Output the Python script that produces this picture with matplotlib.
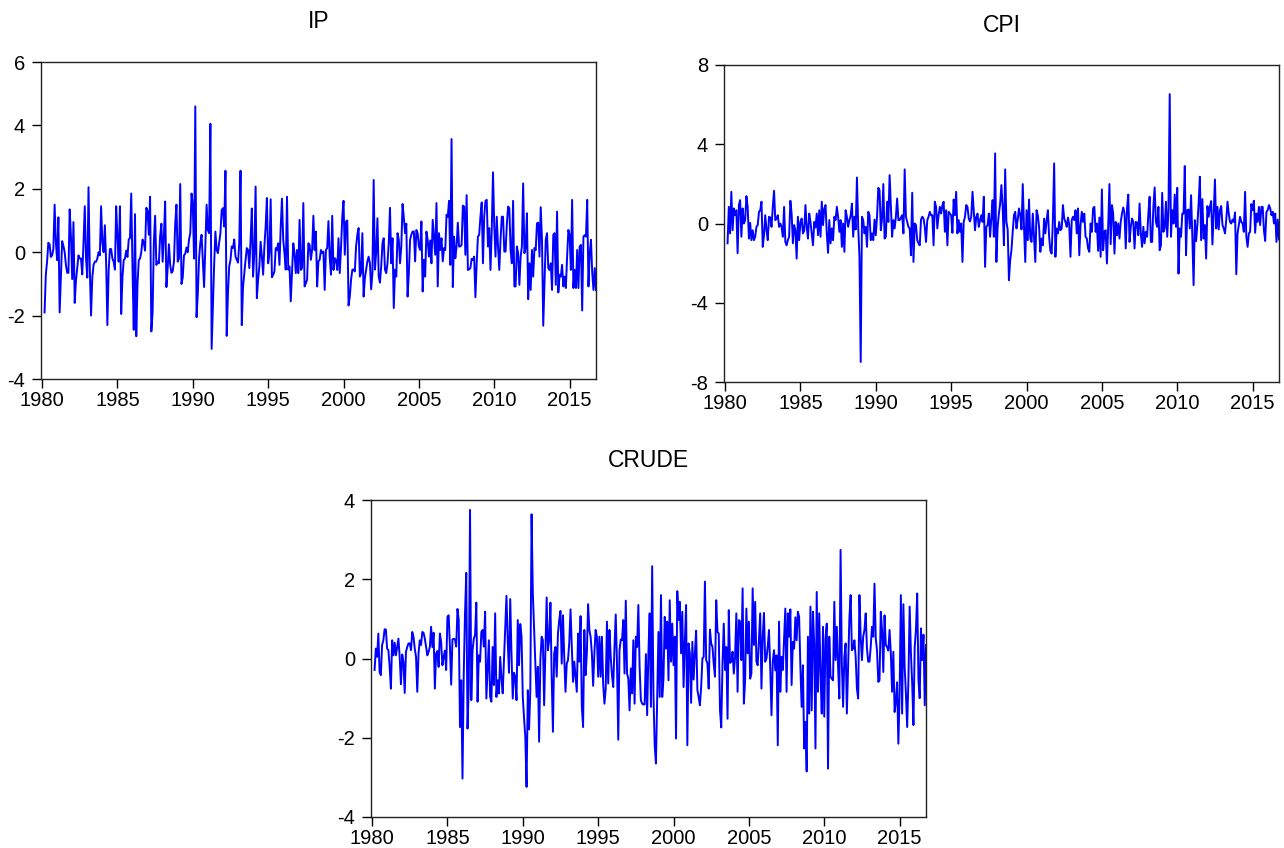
import numpy as np
import matplotlib
matplotlib.use("Agg")
import matplotlib.pyplot as plt

plt.rcParams['font.family'] = ['Liberation Sans', 'DejaVu Sans']
plt.rcParams['axes.unicode_minus'] = False

# monthly data, 1980M03 - 2016M10
ip = [
    -1.9, -0.7, -0.3, 0.3, 0.25, -0.15, -0.1, 0.1, 1.5, 0.3,
    -0.25, 1.1, -1.9, -0.8, 0.35, 0.2, 0.0, -0.4, -0.65, -0.65, 1.35, 0.5,
    -0.85, 0.95, -1.6, -0.9, -0.5, -0.1, -0.2, -0.2, -0.7, 0.3, 1.45, -0.2,
    -0.8, 2.05, -0.5, -2.0, -0.8, -0.4, -0.3, -0.3, -0.2, 0.0, -0.1, 1.45,
    0.3, 0.0, 0.85, -0.3, -2.3, -0.6, 0.1, 0.1, -0.2, -0.3, -0.55, 1.45,
    0.5, -0.3, 1.45, -1.95, -0.8, -0.25, -0.2, 0.05, -0.15, 0.4, 0.45, 1.85,
    -0.5, -2.45, 1.2, -2.65, -1.0, -0.25, -0.2, 0.0, 0.4, 0.3, 0.05, 1.4,
    1.3, 0.55, 1.75, -2.5, -1.9, 0.3, 1.15, -0.4, -0.3, -0.35, 0.5, 0.9,
    -0.3, 0.5, 1.6, -1.1, -0.5, 0.25, -0.4, -0.65, -0.6, -0.3, 0.9, 1.5,
    -0.3, -0.2, 2.15, -1.0, -0.8, -0.1, -0.05, 0.15, 0.0, 0.4, 0.6, 1.85,
    1.5, -0.2, 4.6, -2.05, -1.3, -0.2, 0.3, 0.55, -0.3, -1.1, 0.2, 1.5,
    0.7, 0.6, 4.05, -3.05, -1.7, -0.4, 0.65, 0.07, -0.03, 0.3, 0.6, 1.33,
    1.39, 0.81, 2.57, -2.64, -1.3, -0.45, -0.25, 0.18, 0.13, 0.4, -0.14, -0.24,
    -0.33, 0.3, 2.57, -2.3, -1.1, -0.66, -0.25, 0.13, 0.07, -0.5, 0.39, 1.38,
    -0.77, -0.03, 2.07, -1.45, -0.87, -0.45, 0.33, -0.14, -0.71, 0.18, 0.81, 1.71,
    -0.35, -0.03, 1.67, -0.79, -0.71, -0.61, 0.13, 0.07, 0.28, -0.4, 0.81, 1.69,
    0.39, -0.03, -0.55, 1.75, -0.55, -0.45, -1.55, -0.66, 0.28, -0.03, -0.66, 0.07,
    -0.66, 1.02, -0.56, -0.5, 1.55, -1.08, -0.98, -0.87, 0.28, 0.23, -0.24, 0.07,
    1.15, 0.07, 0.65, -1.08, -0.29, -0.24, 0.07, -0.03, 0.02, -1.19, 0.07, 0.13,
    0.98, -0.14, -0.71, 1.15, -0.56, -0.19, -0.24, -0.56, 0.44, -0.66, 0.13, 1.12,
    1.62, -0.08, 0.97, 1.0, -1.68, -1.4, -0.87, -0.56, -0.54, -0.61, 0.18, 0.55,
    0.76, -0.77, -0.66, 0.6, -1.4, -0.82, -0.56, -0.29, -0.14, -0.35, -1.17, -0.66,
    2.28, -0.55, 0.0, 1.07, -0.77, -0.96, -0.45, 0.28, 0.44, -0.55, -0.66, -0.35,
    0.28, 1.4, -0.35, 0.44, -1.76, -0.55, -0.77, 0.6, 0.39, -0.35, 0.18, 1.52,
    1.1, 0.6, 0.9, -1.4, -0.66, 0.39, 0.55, 0.65, 0.65, -0.29, 0.7, 0.6,
    0.18, 0.07, 0.97, -1.24, -0.24, -0.77, 0.65, 0.39, -0.14, 0.37, -0.35, 1.02,
    0.49, -0.08, 1.55, -1.08, 0.6, 0.07, 0.44, -0.29, 0.13, 0.07, 1.18, 1.12,
    1.62, -0.4, 3.57, -1.1, 0.49, -0.19, 0.18, 0.93, 0.18, 0.18, 0.23, 1.47,
    1.44, -0.08, 1.8, -0.56, -0.54, -0.5, -0.21, -0.24, -0.14, -1.42, -0.35, 0.49,
    0.55, 1.12, 1.57, -0.35, 1.12, 1.62, 1.65, 0.18, 0.76, -0.56, 0.7, 2.52,
    0.81, -0.14, 1.12, 0.18, -0.56, 0.39, 1.12, 1.12, 0.02, 0.02, 0.86, 1.44,
    1.39, 0.07, -0.35, 1.62, -1.08, -1.08, 0.18, -0.03, -1.03, -0.14, 0.18, 2.17,
    -0.03, 0.13, 1.23, -1.48, -0.35, -1.19, 0.07, -0.77, 0.13, 0.07, 0.91, 0.93,
    -0.14, 1.42, 0.39, -2.32, -0.98, 0.39, 0.6, -0.5, -0.56, -0.35, -1.19, 0.55,
    0.6, -1.03, 1.28, -1.27, -0.71, -0.77, -0.4, -1.08, -0.77, -1.13, -0.14, 0.7,
    0.55, -0.56, 1.65, -1.13, -0.56, -1.13, 0.07, -1.13, 0.18, 0.23, -1.84, 0.49,
    0.54, 0.49, 1.65, -1.08, -0.03, 0.39, -0.66, -1.19, -0.5, -1.2,
]

cpi = [
    -1.0, 0.84, -0.5, 1.6, -0.34, 0.76, 0.42, 0.67, -1.5, 0.93,
    1.18, -0.67, 0.76, 0.0, 0.17, 1.38, 0.84, -0.76, 0.03, -0.84, -0.34, -0.84,
    -0.67, -0.17, -0.08, 0.59, 0.67, 1.1, -1.18, -0.59, 0.42, -0.34, -0.84, 0.34,
    0.3, -0.17, 0.84, 1.65, 0.17, 0.25, 0.42, -0.17, 0.0, -0.17, -0.67, 0.84,
    -0.93, -1.1, -0.84, -0.67, 1.15, 0.5, -1.0, -0.08, -0.34, -1.77, 0.34, -0.84,
    0.08, 0.25, -0.5, -0.37, 0.93, -0.17, -0.76, 0.5, 0.08, -0.5, -1.1, 0.08,
    -0.2, 0.5, -0.59, 0.67, -0.67, 1.1, -0.08, 0.76, 0.93, -0.5, -1.48, 0.17,
    -1.0, -0.25, -0.84, 0.34, 0.17, 0.84, 0.34, -0.42, 0.17, -1.18, 0.0, -1.43,
    0.67, 0.34, -0.17, 0.17, 0.4, 1.0, -0.67, 0.34, -0.3, 2.32, -0.17, -1.68,
    -6.99, 0.34, 0.17, -0.5, -0.17, -1.18, 0.59, 0.42, -0.84, -0.5, -0.84, 0.2,
    -0.59, 0.34, 1.8, 1.68, -0.34, 0.25, 1.99, -0.76, -0.67, 1.1, 0.08, 2.44,
    0.84, -0.67, 0.17, -0.25, 0.34, 1.26, 0.17, 0.17, 0.3, 0.42, -0.5, 2.73,
    0.34, 0.08, -0.17, -0.25, -1.6, 1.55, -1.94, 0.0, -0.08, -0.84, -1.0, -1.1,
    0.2, 0.34, 0.25, -0.17, -0.93, 0.17, 0.34, 0.59, 0.42, 0.42, -1.1, 1.1,
    0.84, -0.25, 0.42, 0.84, 0.5, 0.91, 1.1, -0.42, 0.67, -1.1, 0.59, 0.5,
    0.42, -0.47, 1.21, 0.42, 1.6, -0.5, 0.17, -0.42, 0.0, -1.94, 0.08, 0.34,
    0.93, 0.84, 0.25, 0.1, 0.34, 1.6, 0.59, -0.34, 0.34, 0.5, -0.17, 0.17,
    0.42, 0.08, 1.35, -2.19, -0.17, -0.08, 0.5, -0.67, 0.3, 1.18, -0.67, 3.54,
    -1.94, -0.17, 0.5, 1.0, 1.94, 0.84, -1.1, 2.73, 0.08, -0.3, -2.86, -1.85,
    -1.35, -0.42, 0.42, 0.59, -0.25, 0.2, 0.76, 0.42, -0.3, 1.99, -0.17, -1.94,
    0.67, -0.84, 1.21, -0.76, -0.93, 0.5, -0.67, -1.94, 0.67, 0.42, -0.17, -1.43,
    -0.76, -1.1, 0.25, -0.5, 0.17, 0.67, -0.67, -1.38, -1.52, 0.2, 3.03, -1.68,
    -0.25, -0.5, 0.08, -0.34, -0.25, 0.93, 0.25, 0.08, -0.17, 0.3, -0.08, -1.68,
    0.17, 0.34, 0.17, 0.67, -0.5, 0.76, -1.6, -0.08, 0.59, 0.08, 0.5, -0.67,
    -0.76, -1.26, -1.43, 0.0, -0.42, 0.76, 0.84, -0.42, 0.0, -1.38, 0.3, -1.68,
    1.72, -1.35, -0.42, -0.34, -2.02, -0.17, 1.99, -1.04, 0.93, 0.5, -1.52, 0.08,
    -0.59, 0.0, -0.76, 0.08, 0.5, 0.81, 0.5, -1.26, 0.76, 1.46, -0.93, -0.17,
    0.25, 0.08, -1.26, 0.08, 0.05, -0.59, 1.01, -0.5, -1.18, -0.17, -1.0, -0.42,
    -0.67, 0.5, 1.35, -0.93, -0.93, 0.84, 1.82, 0.08, -0.17, 0.84, -1.35, -1.1,
    1.55, -0.42, -0.25, 1.1, -0.67, 0.67, 6.53, -0.67, 0.67, 0.0, 1.46, -0.17,
    1.8, -2.53, -0.25, -0.67, 0.5, 0.5, 2.9, -1.6, 0.67, 0.7, -0.25, 1.43,
    -0.67, -3.11, 0.17, -0.89, -0.08, 1.01, 2.36, -0.84, 1.23, -0.76, -0.08, -1.77,
    0.88, 0.34, 0.84, 1.13, -1.06, 0.5, 2.22, -0.25, 0.84, -0.3, 0.67, 0.88,
    -0.08, -0.25, -0.5, 0.17, 1.1, 0.5, 0.08, 0.0, 0.2, 0.08, 0.56, -2.56,
    -0.5, -0.08, 0.34, 0.08, 0.0, -0.42, 1.6, -0.67, -1.18, -0.5, -0.42, 0.98,
    0.67, 1.15, -0.47, 0.5, 0.08, 0.84, -0.08, 0.84, 0.84, -0.34, -0.88, 0.59,
    0.67, 0.93, 0.76, 0.42, 0.59, 0.0, 0.5, -0.93, 0.2, -0.8,
]

crude = [
    -0.29, 0.25, 0.04, 0.63, -0.34, -0.42, 0.34, 0.46, 0.74, 0.73,
    0.25, 0.21, -0.21, -0.76, 0.46, 0.08, 0.4, 0.08, 0.29, 0.5, 0.04, -0.65,
    0.1, -0.08, -0.87, 0.17, 0.29, 0.38, 0.38, 0.21, 0.67, 0.55, 0.25, 0.04,
    -0.84, 0.13, 0.46, 0.34, 0.67, 0.65, 0.5, 0.3, 0.08, 0.17, 0.29, 0.8,
    0.29, 0.65, -0.76, 0.13, 0.19, -0.21, 0.63, 0.42, -0.17, 0.04, 0.2, -0.29,
    1.05, 1.09, 0.29, -0.66, 0.48, 0.5, 0.48, 0.3, 1.25, 0.97, -1.73, -0.55,
    -3.03, -0.38, 1.14, 2.16, -1.77, -0.72, 3.75, -1.05, 0.21, 0.5, 0.59, 1.41,
    -1.09, 0.08, -0.08, 0.67, 0.72, 0.3, 1.18, -1.01, -0.25, 0.46, -0.97, -1.09,
    0.29, -0.67, 1.14, -0.97, -0.55, -0.88, 0.04, -0.5, -0.88, -0.08, 0.72, 1.58,
    0.46, -0.36, 1.5, 0.13, -1.01, -0.36, -0.46, -1.05, 0.97, -0.17, 0.87, 0.55,
    -0.97, -1.5, -1.98, -3.24, -0.8, -1.79, -0.8, 3.64, 1.64, 0.72, -0.13, -0.97,
    -0.21, -2.1, -0.04, 0.55, 0.46, -1.18, 0.13, 1.54, 0.21, 0.46, 1.41, -0.46,
    -1.85, 0.13, 0.29, -0.46, 0.63, 0.97, 1.2, -0.13, 1.09, 0.04, -0.84, -0.13,
    -0.04, 0.4, 1.24, 0.29, -0.59, -0.08, -0.46, -0.84, 0.63, -0.08, 1.07, -1.22,
    -1.73, 0.72, -0.42, 0.13, 1.37, 0.72, 0.55, 0.13, -0.69, 0.13, 0.72, 0.55,
    -0.46, 0.55, -0.46, 0.55, -0.65, -1.14, -0.78, 0.93, -0.63, 0.72, 0.04, -0.42,
    -0.72, 0.29, 1.11, -0.13, -2.05, 0.21, 0.48, 0.46, 0.97, -0.38, 1.46, -0.38,
    -0.51, -1.31, -0.25, -0.88, 0.46, -1.14, 0.55, 0.29, 1.35, -0.21, -1.05, -1.14,
    -1.16, -1.16, 0.11, -1.43, 0.13, 1.14, -1.22, 2.33, -0.88, -2.19, -2.65, -0.97,
    0.67, -0.97, 1.6, -0.97, -0.51, 1.05, 0.25, 0.93, -0.55, 1.47, -0.08, 0.88,
    -0.17, 0.55, -2.02, 1.7, 0.97, 1.43, 0.13, 1.18, -0.72, 0.4, 1.35, -2.19,
    0.38, 0.13, -1.12, 0.42, -0.53, 0.13, 0.7, -0.8, -0.97, -1.18, -0.72, 0.0,
    0.04, 1.94, -0.04, -0.13, -0.76, 0.73, 0.38, 0.29, -0.13, -0.46, 1.47, 0.67,
    0.63, -1.31, -1.74, -0.13, 0.88, -0.29, 0.29, -1.52, 1.22, -0.11, -0.08, 0.17,
    -0.38, 0.04, 1.14, -0.84, 0.97, 0.93, -0.04, 1.77, -1.14, -0.55, 1.26, 0.13,
    0.93, -0.51, -0.38, 1.77, 0.34, 1.43, -0.08, -0.17, 0.46, 1.14, -0.76, 0.55,
    1.15, -0.08, 0.0, 0.3, 0.72, -0.25, -1.43, -0.08, 0.21, -0.3, 0.08, -2.19,
    0.93, -0.84, 0.04, -0.29, 0.46, 1.26, -0.84, 1.14, 0.55, 1.24, -0.67, 0.42,
    0.25, 1.04, 0.46, 1.18, 1.05, -0.21, -1.22, -0.17, -2.27, -1.6, -2.85, 0.55,
    -1.39, 1.31, -1.31, 1.18, 0.38, -2.27, 1.68, -0.84, 1.14, -0.38, -1.39, 0.8,
    -1.47, 0.5, 0.88, -2.78, 0.55, -0.46, -0.51, -0.55, 1.43, -0.04, 0.8, -0.21,
    -1.01, 2.74, -0.13, -1.22, 0.04, 0.38, -1.39, -0.17, 1.01, 1.6, 0.21, 0.25,
    0.46, 0.04, -0.76, -1.01, 1.6, 0.55, -0.04, 0.55, 0.72, 1.14, 0.25, -0.08,
    -0.08, 0.3, 0.8, 0.55, 1.89, 0.5, 0.21, -0.59, -0.55, 1.18, 0.72, -0.34,
    1.09, 0.34, 0.29, 0.2, 0.72, 0.13, -0.84, 0.17, -1.35, -1.09, -0.6, -2.15,
    -0.88, 1.6, -1.39, 1.37, -0.21, -0.88, -1.73, -0.55, 1.31, 0.13, -0.63, -1.68,
    0.29, 0.72, 1.64, -0.55, -1.0, 0.76, -0.04, 0.6, -1.18, 0.34,
]

start = 1980 + 2 / 12.0

W, H = 1284, 848
fig = plt.figure(figsize=(W / 100, H / 100), dpi=100)


def panel(rect_px, title, vals, yticks):
    l, t, r, b = rect_px
    ax = fig.add_axes([l / W, 1 - b / H, (r - l) / W, (b - t) / H])
    x = start + np.arange(len(vals)) / 12.0
    ax.plot(x, vals, color='#0000FF', lw=1.4)
    ax.set_xlim(1979.93, 2016.75)
    ax.set_ylim(yticks[0], yticks[-1])
    ax.set_yticks(yticks)
    ax.set_yticklabels([str(v) for v in yticks])
    ax.set_xticks(range(1980, 2016, 5))
    ax.tick_params(direction='out', length=6.5, width=1, labelsize=14.5,
                   top=False, right=False)
    ax.tick_params(axis='y', pad=5)
    ax.tick_params(axis='x', pad=2)
    for s in ax.spines.values():
        s.set_linewidth(1.0)
        s.set_color('#222222')
    fig.text((l + r) / 2 / W, 1 - (t - 40) / H, title, ha='center', va='center',
             fontsize=16.5)
    return ax


panel((41, 62, 596, 379), 'IP', ip, [-4, -2, 0, 2, 4, 6])
panel((724, 65, 1279, 382), 'CPI', cpi, [-8, -4, 0, 4, 8])
panel((371, 500, 926, 817), 'CRUDE', crude, [-4, -2, 0, 2, 4])

fig.savefig('out.png', dpi=100)
